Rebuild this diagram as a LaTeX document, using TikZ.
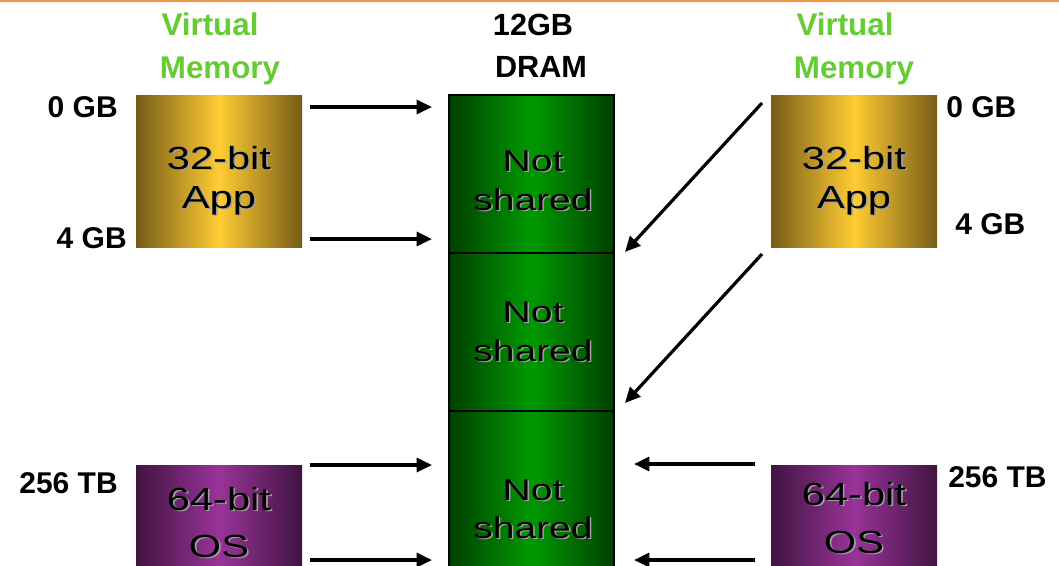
\documentclass[tikz,border=0pt]{standalone}
\usepackage{graphicx}
\usepackage{fontspec}
\setmainfont{Liberation Sans}
\usetikzlibrary{arrows.meta}
\definecolor{vmgreen}{RGB}{102,204,51}
\definecolor{topline}{RGB}{247,150,70}
\definecolor{golddark}{RGB}{118,92,24}
\definecolor{goldlight}{RGB}{255,204,51}
\definecolor{purpdark}{RGB}{64,20,64}
\definecolor{purplight}{RGB}{153,51,153}
\definecolor{grndark}{RGB}{0,64,0}
\definecolor{grnlight}{RGB}{0,153,0}
\definecolor{shadowgray}{RGB}{160,160,160}
\newcommand\shd[1]{\scalebox{1.3}[1]{\rlap{\kern0.9pt\raisebox{-1.1pt}{\color{shadowgray}#1}}#1}}
\tikzset{
  lbl/.style={font=\fontsize{22.5}{26}\selectfont\bfseries, inner sep=0pt},
  vm/.style={font=\fontsize{23.5}{27}\selectfont\bfseries, text=vmgreen, inner sep=0pt, anchor=base},
  hdr/.style={font=\fontsize{23}{27}\selectfont\bfseries, inner sep=0pt, anchor=base},
  boxtxt/.style={font=\fontsize{24}{28}\selectfont, inner sep=0pt, anchor=base},
  dramtxt/.style={font=\fontsize{22.5}{28}\selectfont, inner sep=0pt, anchor=base},
  membox/.style={rectangle, draw=none, minimum width=124.5pt, minimum height=114pt, inner sep=0pt},
  appbox/.style={membox, left color=golddark, right color=golddark, middle color=goldlight},
  osbox/.style={membox, left color=purpdark, right color=purpdark, middle color=purplight},
  drambox/.style={rectangle, draw=black, line width=1.8pt, minimum width=123.75pt, minimum height=118.5pt, inner sep=0pt,
    left color=grndark, right color=grndark, middle color=grnlight},
  arr/.style={line width=2.4pt, -{Triangle[length=11.5pt,width=10.5pt]}}
}
\begin{document}
\begin{tikzpicture}[x=0.75pt,y=-0.75pt]
\clip (0,0) rectangle (1059,565);
\fill[white] (0,0) rectangle (1059,565);
\draw[topline, line width=2pt] (0,1) -- (1059,1);

% headers
\node[vm] (vl1) at (210,35) {Virtual};
\node[vm] (vl2) at (220,78) {Memory};
\node[vm] (vr1) at (845,35) {Virtual};
\node[vm] (vr2) at (854,78) {Memory};
\node[hdr] (h1) at (533,35) {12GB};
\node[hdr] (h2) at (541,77) {DRAM};

% boxes
\node[appbox] (app1) at (219,171) {};
\node[appbox] (app2) at (854,171) {};
\node[osbox] (os1) at (219,541) {};
\node[osbox] (os2) at (854,541) {};
\node[drambox] (d1) at (531.5,174) {};
\node[drambox] (d2) at (531.5,332) {};
\node[drambox] (d3) at (531.5,490) {};

% box texts
\node[boxtxt] (t1a) at (219,169.5) {\shd{32-bit}};
\node[boxtxt] (t1b) at (219,208) {\shd{App}};
\node[boxtxt] (t2a) at (854,169) {\shd{32-bit}};
\node[boxtxt] (t2b) at (854,208) {\shd{App}};
\node[boxtxt] (t3a) at (219,510) {\shd{64-bit}};
\node[boxtxt] (t3b) at (219,557) {\shd{OS}};
\node[boxtxt] (t4a) at (854,505) {\shd{64-bit}};
\node[boxtxt] (t4b) at (854,553) {\shd{OS}};
\node[dramtxt] (n1a) at (533,171) {\shd{Not}};
\node[dramtxt] (n1b) at (533,210) {\shd{shared}};
\node[dramtxt] (n2a) at (533,322) {\shd{Not}};
\node[dramtxt] (n2b) at (533,361) {\shd{shared}};
\node[dramtxt] (n3a) at (533,500) {\shd{Not}};
\node[dramtxt] (n3b) at (533,538) {\shd{shared}};

% address labels
\node[lbl, anchor=base east] (l0) at (118,117) {0 GB};
\node[lbl, anchor=base east] (l4) at (127,248) {4 GB};
\node[lbl, anchor=base east] (l256) at (118,493) {256 TB};
\node[lbl, anchor=base west] (r0) at (946,117) {0 GB};
\node[lbl, anchor=base west] (r4) at (955,234) {4 GB};
\node[lbl, anchor=base west] (r256) at (948,487) {256 TB};

% connector end points
\coordinate (a1s) at (310,107); \coordinate (a1e) at (432,107);
\coordinate (a2s) at (310,239); \coordinate (a2e) at (432,239);
\coordinate (a3s) at (310,465); \coordinate (a3e) at (432,465);
\coordinate (a4s) at (310,560); \coordinate (a4e) at (432,560);
\coordinate (b1s) at (762,103); \coordinate (b1e) at (625,252);
\coordinate (b2s) at (762,254); \coordinate (b2e) at (625,403);
\coordinate (b3s) at (755,464); \coordinate (b3e) at (634,464);
\coordinate (b4s) at (755,560); \coordinate (b4e) at (634,560);

\draw[arr] (a1s) -- (a1e);
\draw[arr] (a2s) -- (a2e);
\draw[arr] (a3s) -- (a3e);
\draw[arr] (a4s) -- (a4e);
\draw[arr] (b1s) -- (b1e);
\draw[arr] (b2s) -- (b2e);
\draw[arr] (b3s) -- (b3e);
\draw[arr] (b4s) -- (b4e);
\end{tikzpicture}
\end{document}
